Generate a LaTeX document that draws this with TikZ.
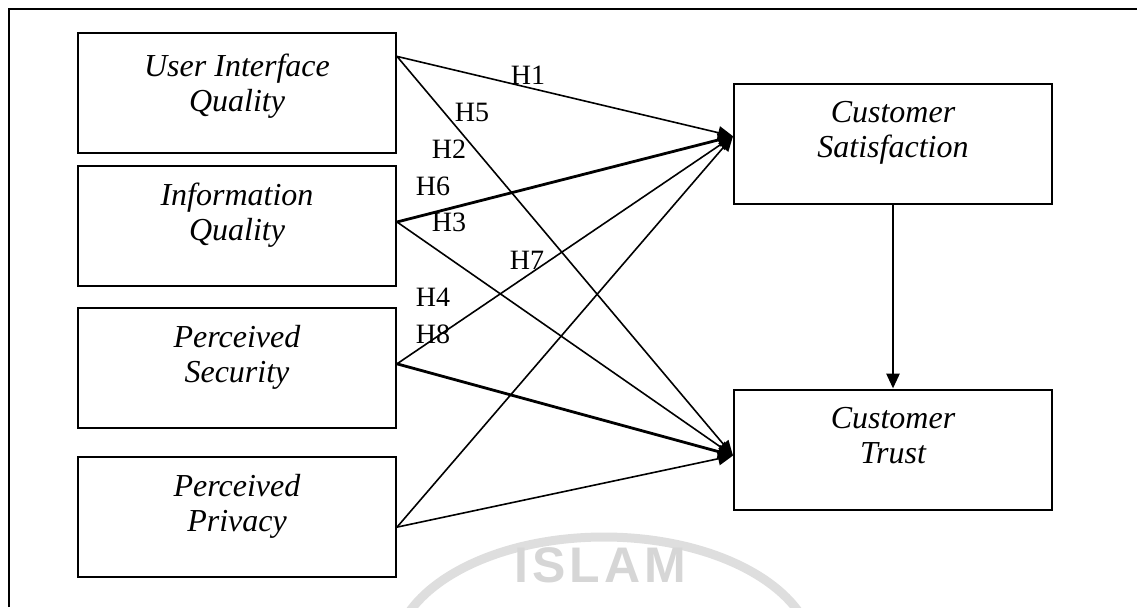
\documentclass[tikz,border=0pt]{standalone}
\usepackage{fontspec}
\setmainfont{Liberation Serif}
\newfontfamily\wmfont[LetterSpace=8]{Liberation Sans}
\usetikzlibrary{positioning,calc,arrows.meta}
\tikzset{
    varbox/.style={draw,line width=1pt,minimum width=159pt,minimum height=60pt,inner sep=0pt},
    vartext/.style={align=center,inner sep=0pt,font=\fontsize{16}{17.5}\selectfont\itshape},
    hyp/.style={inner sep=0pt,font=\fontsize{14}{14}\selectfont},
    link/.style={-{Triangle[length=7.5pt,width=6.5pt]},line width=0.8pt},
    strong/.style={link,line width=1.4pt}
}
\begin{document}
\begin{tikzpicture}[x=0.5pt,y=-0.5pt]
            \useasboundingbox (0,0) rectangle (1137,607);

            \begin{scope}
            \clip (0,0) rectangle (1137,607);
            \draw[black!13,line width=4.5pt] (604,657) ellipse [x radius=105pt,y radius=60pt];
            \node[text=black!16,font=\wmfont\bfseries\fontsize{25}{25}\selectfont] (wm) at (600,565) {ISLAM};
            \end{scope}

            \draw[line width=1pt] (9,607) -- (9,9) -- (1137,9);

            \node[varbox] (uiq) at (237,93) {};
            \node[vartext,below=11pt of uiq.north] (uiqt) {User Interface\\Quality};

            \node[varbox] (iq) at (237,226) {};
            \node[vartext,below=9pt of iq.north] (iqt) {Information\\Quality};

            \node[varbox] (ps) at (237,367.5) {};
            \node[vartext,below=9pt of ps.north] (pst) {Perceived\\Security};

            \node[varbox] (pp) at (237,517) {};
            \node[vartext,below=9pt of pp.north] (ppt) {Perceived\\Privacy};

            \node[varbox] (cs) at (893,143.5) {};
            \node[vartext,below=9pt of cs.north] (cst) {Customer\\Satisfaction};

            \node[varbox] (ct) at (893,449.5) {};
            \node[vartext,below=9pt of ct.north] (ctt) {Customer\\Trust};

            \coordinate (uiqo) at ($(uiq.north east)!0.2!(uiq.south east)$);
            \coordinate (iqo) at ($(iq.north east)!0.467!(iq.south east)$);
            \coordinate (pso) at ($(ps.north east)!0.47!(ps.south east)$);
            \coordinate (ppo) at ($(pp.north east)!0.583!(pp.south east)$);
            \coordinate (csi) at ($(cs.north west)!0.44!(cs.south west)$);
            \coordinate (cti) at ($(ct.north west)!0.55!(ct.south west)$);

            \draw[link] (uiqo) -- (csi);
            \draw[link] (uiqo) -- (cti);
            \draw[strong] (iqo) -- (csi);
            \draw[link] (iqo) -- (cti);
            \draw[link] (pso) -- (csi);
            \draw[strong] (pso) -- (cti);
            \draw[link] (ppo) -- (csi);
            \draw[link] (ppo) -- (cti);
            \draw[strong] (cs) -- (ct);

            \node[hyp] (h1) at (528,75) {H1};
            \node[hyp] (h5) at (472,112) {H5};
            \node[hyp] (h2) at (449,149) {H2};
            \node[hyp] (h6) at (433,186) {H6};
            \node[hyp] (h3) at (449,222) {H3};
            \node[hyp] (h7) at (527,260) {H7};
            \node[hyp] (h4) at (433,297) {H4};
            \node[hyp] (h8) at (433,334) {H8};
\end{tikzpicture}
\end{document}
